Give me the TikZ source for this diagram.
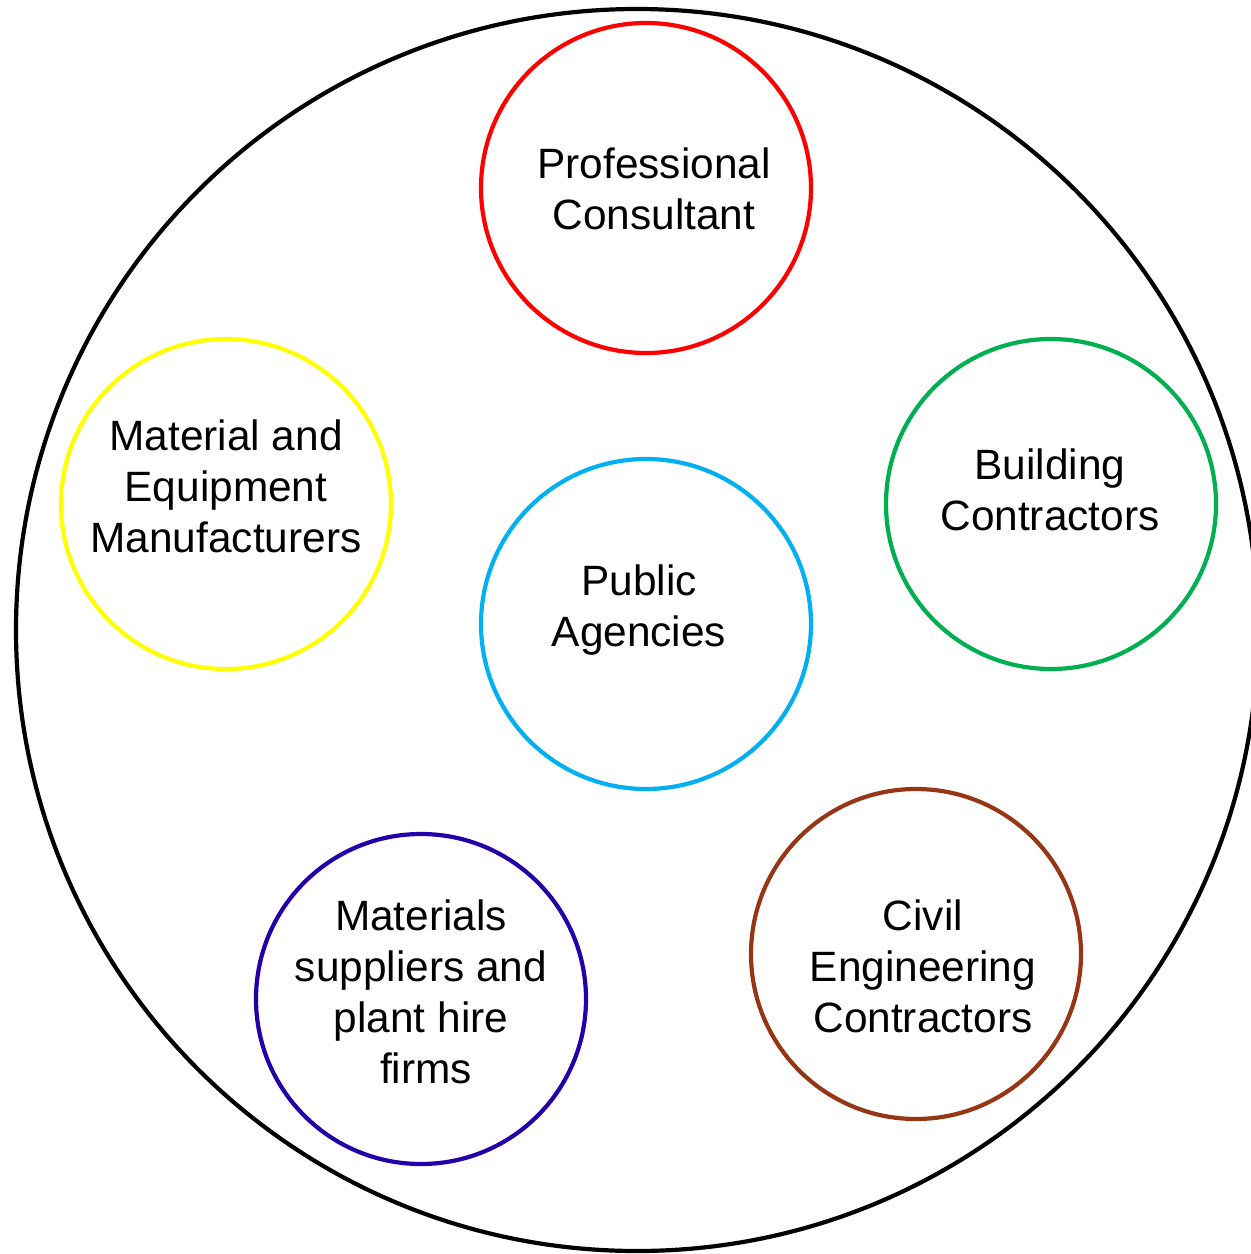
\documentclass[tikz,border=0pt]{standalone}
\usepackage{fontspec}
\setmainfont{Liberation Sans}
\usepackage{xcolor}
\definecolor{pcred}{RGB}{255, 0, 0}
\definecolor{meyel}{RGB}{255, 255, 0}
\definecolor{bcgrn}{RGB}{0, 176, 80}
\definecolor{pablu}{RGB}{0, 176, 240}
\definecolor{msind}{RGB}{36, 0, 168}
\definecolor{cebrn}{RGB}{150, 54, 20}
\tikzset{ring/.style={circle,draw,line width=2.1pt,minimum size=165pt,inner sep=0pt},
lbl/.style={align=center,font=\fontsize{21.2}{25.5}\selectfont,inner sep=0pt}}

\begin{document}
\begin{tikzpicture}[x=0.5pt,y=-0.5pt]
\useasboundingbox (0,0) rectangle (1250,1254);
\node[circle,draw,line width=2.1pt,minimum size=621pt,inner sep=0pt] (all) at (637,630){};
\node[ring,pcred] (pc) at (646,188){};
\node[ring,meyel] (me) at (226,504){};
\node[ring,bcgrn] (bc) at (1051,504){};
\node[ring,pablu] (pa) at (646,624){};
\node[ring,msind] (ms) at (421,999){};
\node[ring,cebrn] (ce) at (916,954){};
\node[lbl] (pct) at (654,189) {Professional\\Consultant};
\node[lbl] (met) at (226,486) {Material and\\Equipment\\Manufacturers};
\node[lbl] (bct) at (1050,490) {Building\\Contractors};
\node[lbl] (pat) at (639,610) {Public\\Agencies};
\node[lbl] (mst) at (421,992) {Materials\\suppliers and\\plant hire\\\hspace*{5pt}firms};
\node[lbl] (cet) at (923,966) {Civil\\Engineering\\Contractors};
\end{tikzpicture}
\end{document}
